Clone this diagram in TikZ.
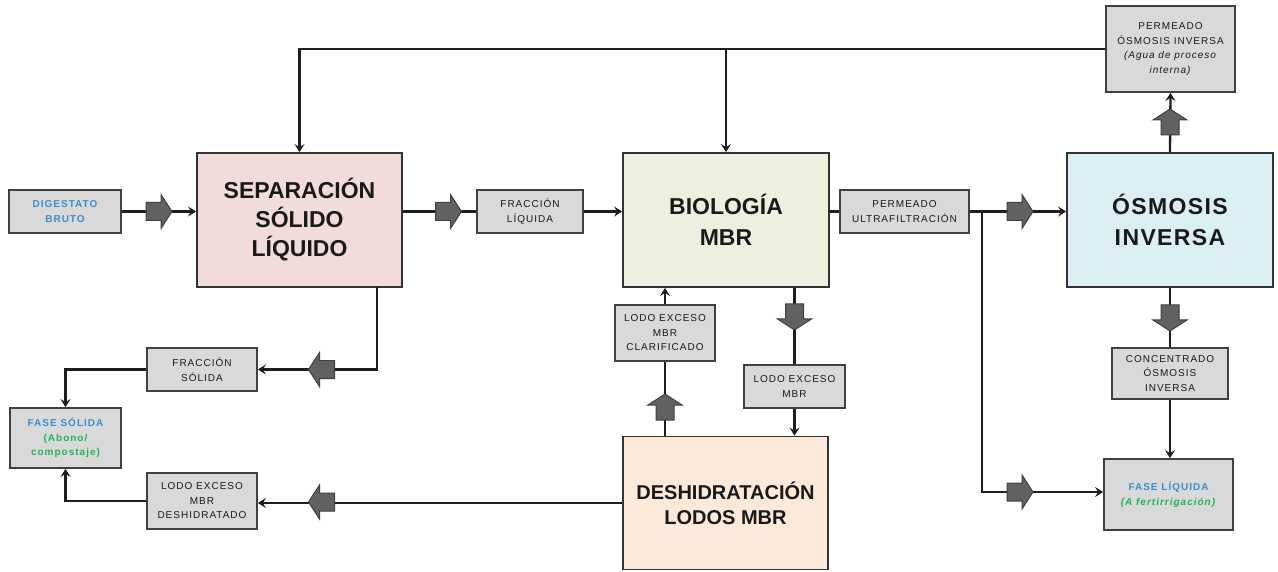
\documentclass[tikz,border=0pt]{standalone}
\usepackage{fontspec}
\setmainfont{Liberation Sans}
\newfontfamily\smallf[LetterSpace=10]{Liberation Sans}
\usetikzlibrary{arrows.meta}
\definecolor{pinkF}{HTML}{F2DCDB}
\definecolor{greenF}{HTML}{EBF1DE}
\definecolor{blueF}{HTML}{DAEEF3}
\definecolor{peachF}{HTML}{FDE9D9}
\definecolor{grayF}{HTML}{D9D9D9}
\definecolor{txtBlue}{HTML}{3C8DCB}
\definecolor{txtGreen}{HTML}{1FB35A}
\definecolor{lineC}{HTML}{1E1E1E}
\begin{document}
\begin{tikzpicture}[x=1pt,y=-1pt,
  small/.style={draw=black!75, fill=grayF, line width=1.8pt, align=center,
    font=\smallf\fontsize{10}{14.5}\selectfont, text=black!90, inner sep=1pt},
  big/.style={draw=black!80, line width=1.8pt, align=center,
    font=\fontsize{23}{29}\selectfont\bfseries, text=black!90},
  conn/.style={line width=2.3pt, draw=lineC, -{Stealth[length=8pt,width=10pt,inset=3pt]}},
  plain/.style={line width=2.3pt, draw=lineC},
  barrow/.pic={\draw[fill=black!62, draw=black!75, line width=1pt]
    (-13,-9) -- (2,-9) -- (2,-17) -- (13,0) -- (2,17) -- (2,9) -- (-13,9) -- cycle;}
]
\useasboundingbox (0,0) rectangle (1278,572);
\fill[white] (0,0) rectangle (1278,572);

% nodes
\node[small, minimum width=112, minimum height=43, text=txtBlue, font=\smallf\fontsize{10}{14.5}\selectfont\bfseries] (dig) at (65,211.5) {DIGESTATO\\BRUTO};
\node[big, fill=pinkF, minimum width=205, minimum height=134] (sep) at (299.5,220) {SEPARACIÓN\\SÓLIDO\\LÍQUIDO};
\node[small, minimum width=106, minimum height=43] (fl) at (530,211.5) {FRACCIÓN\\LÍQUIDA};
\node[big, fill=greenF, minimum width=206, minimum height=134, font=\fontsize{23}{31}\selectfont\bfseries] (bio) at (726,220) {BIOLOGÍA\\MBR};
\node[small, minimum width=129, minimum height=43] (pu) at (904.5,211.5) {PERMEADO\\ULTRAFILTRACIÓN};
\node[big, fill=blueF, minimum width=206, minimum height=134, font=\addfontfeature{LetterSpace=6}\fontsize{23}{31}\selectfont\bfseries] (oi) at (1170,220) {ÓSMOSIS\\INVERSA};
\node[small, minimum width=129, minimum height=86] (poi) at (1170.5,49) {PERMEADO\\ÓSMOSIS INVERSA\\\textit{(Agua de proceso}\\\textit{interna)}};
\node[small, minimum width=110, minimum height=43] (fs) at (202,369.5) {FRACCIÓN\\SÓLIDA};
\node[small, minimum width=111, minimum height=60, font=\smallf\fontsize{10}{14.5}\selectfont\bfseries] (fsol) at (65.5,438) {\textcolor{txtBlue}{FASE SÓLIDA}\\\textcolor{txtGreen}{(Abono/}\\\textcolor{txtGreen}{compostaje)}};
\node[small, minimum width=110, minimum height=56] (led) at (202,501) {LODO EXCESO\\MBR\\DESHIDRATADO};
\node[big, fill=peachF, minimum width=205, minimum height=133, font=\fontsize{20}{25}\selectfont\bfseries] (des) at (725.5,503) {DESHIDRATACIÓN\\LODOS MBR};
\node[small, minimum width=100, minimum height=56] (lec) at (665,333) {LODO EXCESO\\MBR\\CLARIFICADO};
\node[small, minimum width=101, minimum height=43] (lem) at (794.5,386.5) {LODO EXCESO\\MBR};
\node[small, minimum width=116, minimum height=51] (co) at (1170,373.5) {CONCENTRADO\\ÓSMOSIS\\INVERSA};
\node[small, minimum width=129, minimum height=71, font=\smallf\fontsize{10}{14.5}\selectfont\bfseries] (fliq) at (1168.5,494.5) {\textcolor{txtBlue}{FASE LÍQUIDA}\\\textcolor{txtGreen}{\textit{(A fertirrigación)}}};

% junction coordinates
\coordinate (jb) at (982,211.5);
\coordinate (sepout) at (377,287);

% connectors
\draw[conn] (dig.east) -- (sep.west |- dig.east);
\draw[plain] (sep.east |- fl.west) -- (fl.west);
\draw[conn] (fl.east) -- (bio.west |- fl.east);
\draw[plain] (bio.east |- pu.west) -- (pu.west);
\draw[conn] (pu.east) -- (oi.west |- pu.east);
\draw[conn] (jb) |- (fliq.west |- 0,492);
\draw[conn] (oi.north) -- (poi.south);
\draw[conn] (poi.west) -| (sep.north);
\draw[conn] (bio.north |- poi.west) -- (bio.north);
\draw[conn] (sepout) |- (fs.east);
\draw[conn] (fs.west) -| (fsol.north);
\draw[conn] (led.west) -| (fsol.south);
\draw[conn] (des.west) -- (led.east |- des.west);
\draw[plain] (lem.north |- bio.south) -- (lem.north);
\draw[conn] (lem.south) -- (lem.south |- des.north);
\draw[plain] (lec.south |- des.north) -- (lec.south);
\draw[conn] (lec.north) -- (lec.north |- bio.south);
\draw[plain] (oi.south) -- (co.north);
\draw[conn] (co.south) -- (co.south |- fliq.north);

% block arrows
\pic at (159,211.5) {barrow};
\pic at (448.5,211.5) {barrow};
\pic at (1020,211.5) {barrow};
\pic at (1020,492) {barrow};
\pic[rotate=90] at (1170,122) {barrow};
\pic[rotate=-90] at (794.5,317) {barrow};
\pic[rotate=90] at (665,407) {barrow};
\pic[rotate=-90] at (1170,318) {barrow};
\pic[rotate=180] at (321.5,369.5) {barrow};
\pic[rotate=180] at (321.5,502) {barrow};
\end{tikzpicture}
\end{document}
